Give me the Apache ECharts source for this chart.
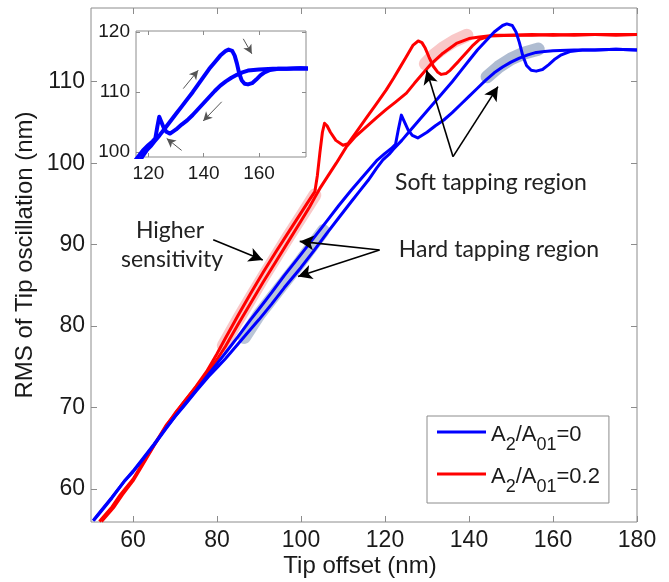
<!DOCTYPE html>
<html><head><meta charset="utf-8">
<script src="https://cdn.jsdelivr.net/npm/echarts@6/dist/echarts.min.js"></script>
<style>html,body{margin:0;padding:0;background:#fff}#c{width:669px;height:582px}</style>
</head><body><div id="c"></div>
<script>
// ---------- data ----------
const xTicks = [60, 80, 100, 120, 140, 160, 180];
const yTicks = [60, 70, 80, 90, 100, 110];
const insetXTicks = [120, 140, 160];
const insetYTicks = [100, 110, 120];
const legendNames = ['A2/A01=0', 'A2/A01=0.2'];
const legendRich = ['{n|A}{s|2}{n|/A}{s|01}{n|=0}', '{n|A}{s|2}{n|/A}{s|01}{n|=0.2}'];

// blue curve with small spike at ~124 nm, then smooth rise to plateau
const blueRetract = [[50.5,56.1],[52,57.1],[55,59.0],[58,61.0],[60,62.2],[62,63.5],[65,65.5],[68,67.6],[70,68.9],[72,70.2],[75,72.1],[78,74.1],[80,75.4],[82,76.7],[85,78.7],[88,80.8],[90,82.1],[93,84.1],[96,86.2],[100,88.8],[103,90.8],[106,92.8],[109,94.8],[112,96.7],[114,97.9],[116,99.1],[118,100.3],[120,101.2],[121.5,101.8],[122.5,102.3],[123.2,104.2],[123.9,105.9],[124.6,105.1],[125.5,104.1],[126.5,103.4],[127.8,103.1],[130,103.8],[132,104.6],[134,105.3],[136,106.2],[138,107.2],[140,108.2],[142,109.2],[144,110.2],[146,111.1],[148,111.8],[150,112.4],[152,112.9],[154,113.3],[156,113.6],[158,113.7],[160,113.8],[165,113.9],[170,113.9],[175,114.0],[180,113.9]];
// blue curve with overshoot peak at ~149 nm
const blueApproach = [[50.7,56.2],[52,57.0],[55,58.9],[58,61.0],[60,62.1],[62,63.4],[65,65.4],[68,67.5],[70,68.9],[72,70.1],[75,72.0],[78,73.8],[80,74.9],[82,76.0],[85,77.8],[88,79.6],[90,80.8],[93,82.7],[96,84.7],[100,87.2],[103,89.2],[106,91.3],[109,93.3],[112,95.3],[114,96.6],[116,97.9],[118,99.4],[119.5,100.4],[121,101.1],[122,101.7],[124,102.8],[126,104.0],[128,105.2],[130,106.4],[132,107.6],[134,108.8],[136,110.0],[138,111.3],[140,112.6],[142,113.9],[144,115.0],[146,116.1],[148,116.9],[149,117.1],[150.3,116.9],[151.2,116.1],[152,114.8],[152.8,113.2],[153.7,112.0],[154.8,111.4],[156,111.3],[157.5,111.5],[159,112.1],[160.5,112.8],[162,113.3],[164,113.7],[167,113.9],[170,113.9],[175,114.0],[180,113.9]];
// red curve with spike at ~105 nm and overshoot peak at ~128 nm
const redApproach = [[52,56.0],[53.5,56.9],[55,57.8],[57,59.3],[60,61.2],[62,62.9],[65,65.4],[68,67.9],[70,69.2],[72,70.6],[75,72.6],[77.5,74.4],[80,76.6],[82,78.5],[85,81.3],[88,84.0],[91,86.6],[94,89.1],[97,91.5],[100,93.9],[102,95.5],[103.3,96.5],[103.9,98.5],[104.5,101.3],[105.1,103.8],[105.6,104.9],[106.2,104.6],[107,103.8],[108.3,102.8],[110,102.2],[111.2,102.4],[113,103.7],[115.6,105.6],[118,107.3],[120.3,109.0],[122,110.4],[123.5,111.7],[125,113.0],[126.7,114.5],[127.9,115.0],[128.8,114.8],[129.6,114.1],[130.5,113.0],[131.5,111.9],[132.5,111.2],[133.4,110.9],[134.5,111.0],[135.5,111.4],[137.5,112.5],[139.4,113.6],[141,114.5],[142.5,115.2],[145,115.6],[150,115.7],[155,115.7],[160,115.8],[165,115.7],[170,115.8],[175,115.8],[180,115.8]];
// red smooth curve
const redRetract = [[52.5,56.0],[54,56.9],[55.5,57.8],[57.5,59.3],[60,61.0],[62,62.7],[65,65.3],[68,67.8],[70,69.3],[72,70.6],[75,72.5],[77.5,74.1],[80,75.9],[82,77.5],[85,80.2],[88,82.8],[91,85.4],[94,87.9],[97,90.4],[100,92.9],[102,94.6],[103.3,95.8],[104.5,96.9],[106,98.1],[108.4,100.0],[110.8,102.0],[113,103.3],[115.6,104.5],[118,105.6],[120.3,106.6],[122.5,107.5],[125.1,108.6],[127,109.8],[129,111.0],[131,112.2],[133.8,113.5],[137,114.7],[140,115.3],[142.5,115.5],[146,115.7],[150,115.7],[155,115.8],[160,115.7],[165,115.8],[170,115.8],[175,115.7],[180,115.8]];

// highlighted regions
const redSensitivityBand = [[81.5,77.6],[85,80.8],[88,83.4],[91,86.0],[94,88.5],[97,91.0],[100,93.4],[103.3,96.1]];
const blueHardBand = [[86.5,78.6],[90,81.4],[95,84.7],[100,88.0],[105.3,91.7]];
const redSoftBand = [[129.6,112.2],[131.5,113.2],[134,114.2],[136.5,115.0],[139.5,115.7]];
const blueSoftBand = [[144.3,110.6],[147,111.8],[150,112.8],[153,113.5],[156.5,114.0]];

// annotation arrows [from, to] in data units
const mainArrows = [
  [[79.1,90.6],[90.9,88.1]],
  [[118.7,89.35],[99.7,90.4]],
  [[118.7,89.35],[99.3,86.1]],
  [[136.2,100.8],[129.9,111.4]],
  [[136.2,100.8],[146.9,109.4]]
];
const insetArrows = [
  [[132.6,110.6],[138.0,113.65]],
  [[154.3,118.9],[157.4,116.4]],
  [[146.5,108.4],[139.8,105.2]],
  [[132.0,100.3],[126.6,102.3]]
];

// ---------- chart ----------
const FRAME = '#8c8c8c', TXT = '#1a1a1a';
function xAx(grid, pos, min, max, ticks, label, len, fs) {
  return { type:'value', gridIndex:grid, position:pos, min:min, max:max,
    axisLine:{show:false}, splitLine:{show:false},
    axisTick:{show:true, inside:true, length:len, customValues:ticks, lineStyle:{color:FRAME, width:1}},
    axisLabel:{show:label, customValues:ticks, fontSize:fs, fontFamily:'Liberation Sans', color:TXT, margin:7} };
}
function yAx(grid, pos, min, max, ticks, label, len, fs) {
  return { type:'value', gridIndex:grid, position:pos, min:min, max:max,
    axisLine:{show:false}, splitLine:{show:false},
    axisTick:{show:true, inside:true, length:len, customValues:ticks, lineStyle:{color:FRAME, width:1}},
    axisLabel:{show:label, customValues:ticks, fontSize:fs, fontFamily:'Liberation Sans', color:TXT, margin:6} };
}
function band(data, color) {
  return { type:'line', xAxisIndex:0, yAxisIndex:0, data:data, symbol:'none', silent:true, z:1,
    lineStyle:{width:13, color:color, cap:'round', join:'round'} };
}
function curve(name, data, color, xi, yi, w) {
  return { type:'line', name:name, xAxisIndex:xi, yAxisIndex:yi, data:data, symbol:'none', z:3,
    lineStyle:{width:w, color:color, join:'round'}, itemStyle:{color:color}, clip:true };
}
function arrowLines(list, size) {
  return list.map(a => [
    {coord:a[0], symbol:'none'},
    {coord:a[1], symbol:'arrow', symbolSize:size}
  ]);
}

const chart = echarts.init(document.getElementById('c'), null, {renderer:'canvas'});
chart.setOption({
  animation:false,
  backgroundColor:'#fff',
  grid:[
    {left:91, top:8, width:546, height:514, show:true, borderColor:FRAME, borderWidth:1, backgroundColor:'transparent'},
    {left:136, top:31, width:170, height:126, show:true, borderColor:FRAME, borderWidth:1, backgroundColor:'#fff', z:5}
  ],
  xAxis:[
    xAx(0,'bottom',50,180,xTicks,true,6,23),
    xAx(0,'top',50,180,xTicks,false,6,23),
    Object.assign(xAx(1,'bottom',115.5,177,insetXTicks,true,4,19), {z:6}),
    Object.assign(xAx(1,'top',115.5,177,insetXTicks,false,4,19), {z:6})
  ],
  yAxis:[
    yAx(0,'left',55.95,119.05,yTicks,true,6,23),
    yAx(0,'right',55.95,119.05,yTicks,false,6,23),
    Object.assign(yAx(1,'left',99.2,120.2,insetYTicks,true,4,19), {z:6}),
    Object.assign(yAx(1,'right',99.2,120.2,insetYTicks,false,4,19), {z:6})
  ],
  legend:{
    data:legendNames, orient:'vertical', left:427, top:416,
    icon:'rect', padding:[5,9,7,10], itemGap:9, itemWidth:49, itemHeight:3,
    backgroundColor:'#fff', borderColor:FRAME, borderWidth:1,
    selectedMode:false,
    formatter:function(name){ return legendRich[legendNames.indexOf(name)]; },
    textStyle:{ rich:{
      n:{fontSize:22, fontFamily:'Liberation Sans', color:TXT, lineHeight:22, padding:[3,0,0,0], verticalAlign:'top'},
      s:{fontSize:18, fontFamily:'Liberation Sans', color:TXT, lineHeight:18, padding:[15,0,0,0], verticalAlign:'top'}
    }}
  },
  series:[
    band(redSensitivityBand,'rgba(240,110,110,0.38)'),
    band(redSoftBand,'rgba(240,110,110,0.38)'),
    band(blueHardBand,'rgba(110,133,172,0.48)'),
    band(blueSoftBand,'rgba(110,133,172,0.55)'),
    curve(legendNames[1], redRetract, '#ff0000', 0, 0, 3),
    curve(legendNames[1], redApproach, '#ff0000', 0, 0, 3),
    curve(legendNames[0], blueRetract, '#0000ff', 0, 0, 3),
    curve(legendNames[0], blueApproach, '#0000ff', 0, 0, 3),
    { type:'line', name:'arrows', xAxisIndex:0, yAxisIndex:0, data:[], z:4, silent:true,
      markLine:{ silent:true, animation:false, label:{show:false},
        lineStyle:{color:'#000', width:1.6, type:'solid'}, emphasis:{disabled:true},
        data:arrowLines(mainArrows,[11,14]) } },
    Object.assign(curve('inset1', blueRetract, '#0000ff', 2, 2, 4), {z:7}),
    Object.assign(curve('inset2', blueApproach, '#0000ff', 2, 2, 4), {z:7}),
    { type:'line', name:'insetArrows', xAxisIndex:2, yAxisIndex:2, data:[], z:8, silent:true,
      markLine:{ silent:true, animation:false, label:{show:false},
        lineStyle:{color:'#555', width:1, type:'solid'}, emphasis:{disabled:true},
        data:arrowLines(insetArrows,[7,9]) } }
  ],
  graphic:[
    {type:'text', x:360, y:566, style:{text:'Tip offset (nm)', font:'24px "Liberation Sans"', fill:TXT, align:'center', verticalAlign:'middle'}},
    {type:'text', x:25, y:255, rotation:Math.PI/2, style:{text:'RMS of Tip oscillation (nm)', font:'24px "Liberation Sans"', fill:TXT, align:'center', verticalAlign:'middle'}},
    {type:'text', x:170, y:231, style:{text:'Higher', font:'23px Lato', fill:'#222', align:'center', verticalAlign:'middle'}},
    {type:'text', x:172, y:260, style:{text:'sensitivity', font:'23px Lato', fill:'#222', align:'center', verticalAlign:'middle'}},
    {type:'text', x:491, y:183, style:{text:'Soft tapping region', font:'23px Lato', fill:'#222', align:'center', verticalAlign:'middle'}},
    {type:'text', x:499, y:250, style:{text:'Hard tapping region', font:'23px Lato', fill:'#222', align:'center', verticalAlign:'middle'}}
  ]
});
</script></body></html>
